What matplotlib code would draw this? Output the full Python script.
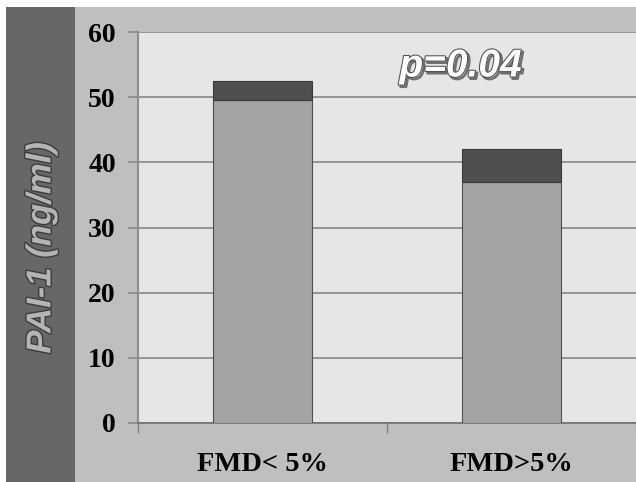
import matplotlib.pyplot as plt
import matplotlib.patheffects as pe
from matplotlib.patches import Rectangle

# dados
grupos = ['FMD< 5%', 'FMD>5%']
media = [49.5, 37.0]
erro = [3.0, 5.0]
y_ticks = [0, 10, 20, 30, 40, 50, 60]

fig = plt.figure(figsize=(6.36, 4.82), dpi=100, facecolor='white')

# fundo e faixa escura da esquerda
fig.patches.append(Rectangle((6 / 636, 0), 1, 475 / 482, transform=fig.transFigure,
                             facecolor='#bfbfbf', edgecolor='none', zorder=-2))
fig.patches.append(Rectangle((6 / 636, 0), 69 / 636, 475 / 482, transform=fig.transFigure,
                             facecolor='#676767', edgecolor='none', zorder=-1))

ax = fig.add_axes([138 / 636, 59 / 482, 1 - 138 / 636, 391 / 482])
ax.set_facecolor('#e6e6e6')

x = [0.5, 1.5]
ax.bar(x, media, width=0.4, color='#a4a4a4', edgecolor='#505050', linewidth=0.8, zorder=3)
ax.bar(x, erro, width=0.4, bottom=media, color='#4f4f4f', edgecolor='#3a3a3a',
       linewidth=0.8, zorder=3)

ax.set_ylim(0, 60)
ax.set_xlim(0, 2)
ax.set_yticks(y_ticks)
ax.set_yticklabels([str(v) for v in y_ticks], fontfamily='Liberation Serif',
                   fontweight='bold', fontsize=20)
ax.grid(axis='y', color='#8e8e8e', linewidth=1.3, zorder=1)
ax.tick_params(axis='y', length=7, width=1.3, color='#8e8e8e', pad=9)

ax.set_xticks([0, 1, 2])
ax.set_xticklabels([])
ax.tick_params(axis='x', which='major', length=7, width=1, color='#808080')
ax.set_xticks(x, minor=True)
ax.set_xticklabels(grupos, minor=True, fontfamily='Liberation Serif',
                   fontweight='bold', fontsize=20.5)
ax.tick_params(axis='x', which='minor', length=0, pad=21)

for s in ['top', 'right']:
    ax.spines[s].set_visible(False)
ax.spines['left'].set_color('#8e8e8e')
ax.spines['left'].set_linewidth(1.5)
ax.spines['bottom'].set_color('#707070')
ax.spines['bottom'].set_linewidth(1.2)

ax.text(1.05, 54.7, 'p=0.04', fontsize=28, fontstyle='italic', fontweight='bold',
        family=['Liberation Sans Narrow', 'Liberation Sans'], color='white',
        va='center', ha='left',
        path_effects=[pe.SimpleLineShadow(offset=(1.5, -1.5), shadow_color='#707070',
                                          alpha=1, linewidth=2),
                      pe.withStroke(linewidth=1.5, foreground='#505050')])

fig.text(41 / 636, 0.486, 'PAI-1 (ng/ml)', rotation=90, fontsize=25, fontstyle='italic',
         fontweight='bold', family=['Liberation Sans Narrow', 'Liberation Sans'],
         color='#b4b4b4', ha='center', va='center',
         path_effects=[pe.withStroke(linewidth=2, foreground='#3c3c3c')])

fig.savefig('out.png', dpi=100, facecolor='white')
